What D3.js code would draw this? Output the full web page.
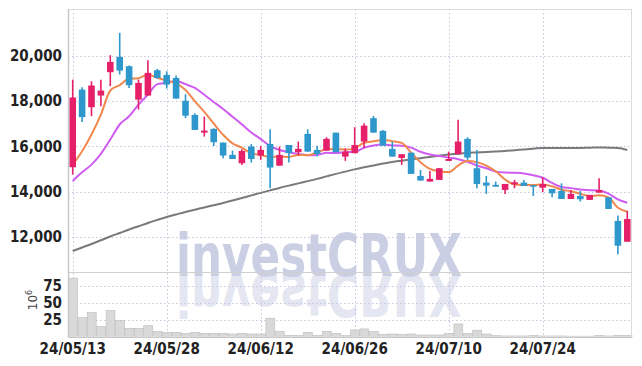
<!DOCTYPE html>
<html><head><meta charset="utf-8">
<script src="https://cdn.jsdelivr.net/npm/d3@7"></script>
<style>html,body{margin:0;padding:0;background:#fff;}svg{display:block;}</style>
</head><body><svg id="c" width="642" height="366" xmlns:xlink="http://www.w3.org/1999/xlink"></svg>
<script>
const dates = ["24/05/13","24/05/14","24/05/16","24/05/17","24/05/20","24/05/21","24/05/22","24/05/23","24/05/24","24/05/27","24/05/28","24/05/29","24/05/30","24/05/31","24/06/03","24/06/04","24/06/05","24/06/07","24/06/10","24/06/11","24/06/12","24/06/13","24/06/14","24/06/17","24/06/18","24/06/19","24/06/20","24/06/21","24/06/24","24/06/25","24/06/26","24/06/27","24/06/28","24/07/01","24/07/02","24/07/03","24/07/04","24/07/05","24/07/08","24/07/09","24/07/10","24/07/11","24/07/12","24/07/15","24/07/16","24/07/17","24/07/18","24/07/19","24/07/22","24/07/23","24/07/24","24/07/25","24/07/26","24/07/29","24/07/30","24/07/31","24/08/01","24/08/02","24/08/05","24/08/06"];
const open  = [15075,18510,17730,18245,19280,19955,19545,18065,18245,19365,19160,19025,18015,17390,16605,16770,16165,15620,15250,15990,15590,16105,15145,16060,15740,16550,15840,15810,16605,15545,15695,16210,17245,16680,15885,15485,15720,14690,14440,14515,15355,15650,16330,15030,14395,14295,14070,14320,14395,14280,14170,14115,14025,13670,13805,13630,13950,13745,12700,11780];
const high  = [18950,18615,18880,18950,20030,21020,19570,18950,19810,19425,19320,19130,18305,17465,17315,16800,16165,15810,15870,16095,16015,16755,15990,16060,16210,16755,16030,16400,16605,15915,16845,17020,17345,16725,16210,15650,15720,14955,14910,15030,15765,17170,16400,15840,14690,14440,14335,14515,14515,14280,14630,14115,14365,14070,14025,13850,14590,13745,12935,13140];
const low   = [14750,17080,17330,17775,18660,19175,18585,17625,18245,18995,18555,18110,17245,16725,16430,16015,15475,15440,15175,15280,15400,14145,15145,15280,15590,15765,15545,15810,15740,15355,15695,15915,16605,16030,15545,15175,14780,14485,14440,14515,15355,15650,15400,14145,13895,14215,13895,14145,14250,13805,13970,13745,13670,13670,13555,13630,13950,13230,11225,11780];
const close = [18160,17290,18690,18465,19735,19350,18705,18805,19250,19025,18730,18110,17355,16725,16695,16180,15590,15440,15795,15440,15840,15060,15620,15695,15885,15765,15665,16330,15740,15765,16060,16915,16605,16030,15545,15650,14780,14485,14560,15030,15440,16210,15500,14335,14260,14215,14335,14410,14250,14220,14335,13920,13670,13895,13660,13850,14070,13230,11605,12785];
const ma5   = [15190,15780,16520,17400,18470,18710,18990,19010,19170,19030,18900,18780,18490,17990,17520,17010,16510,16130,15940,15690,15620,15520,15550,15530,15620,15610,15730,15870,15880,15850,15910,16160,16220,16280,16230,16150,15720,15300,15000,14900,14860,15150,15350,15300,15150,14900,14530,14310,14290,14290,14310,14230,14080,14010,13900,13800,13830,13740,13280,13110];
const ma10  = [14470,14850,15190,15665,16300,16965,17330,17845,18290,18750,18810,18890,18750,18580,18280,17960,17650,17310,16970,16610,16320,16010,15840,15740,15660,15610,15620,15710,15700,15740,15760,15940,16040,16080,16040,16030,15940,15760,15640,15570,15500,15430,15320,15150,15030,14880,14840,14830,14800,14720,14610,14380,14200,14150,14090,14060,14030,13910,13650,13500];
const maLong= [11370,11525,11680,11845,12010,12165,12320,12465,12610,12745,12875,12985,13095,13195,13295,13395,13495,13605,13715,13830,13940,14050,14160,14260,14360,14460,14560,14670,14780,14880,14980,15070,15155,15235,15310,15365,15420,15475,15530,15585,15640,15675,15710,15730,15750,15770,15795,15830,15860,15895,15930,15930,15930,15930,15930,15940,15950,15940,15930,15840];
const volume= [86,28.4,35.7,15.2,38.7,24,12.7,12.7,16.6,8.4,6.9,6.9,5.4,6.9,5.4,5.4,5.4,4.4,5.4,4.4,4.4,27.5,8.4,2.5,2.5,6.9,2.5,8.4,5.4,2,10.3,11.8,7.8,4,4.4,4,4.4,3,3,3,5.4,19,5,10,4.4,2,1.5,1.5,1.5,2.5,1.5,1.5,1.5,1.2,1.2,1.2,2.5,1.5,2.5,2.5];
const priceTicks = [12000,14000,16000,18000,20000];
const volTicks = [25,50,75];
const xTickLabels = ["24/05/13","24/05/28","24/06/12","24/06/26","24/07/10","24/07/24"];

const svg = d3.select("#c");
const L = 68, R = 632, T = 9, PB = 272, VB = 337;
const FONT = "'Liberation Sans Narrow','DejaVu Sans Condensed',sans-serif";

const x = d3.scaleBand().domain(dates).range([L, R]).paddingInner(0.3).paddingOuter(0.15);
const xv = d3.scaleBand().domain(dates).range([L, R]).padding(0);
const y = d3.scaleLinear().domain([10440, 22030]).range([PB, T + 1]);
const yv = d3.scaleLinear().domain([0, 95]).range([VB, PB]);
const cx = d => x(d) + x.bandwidth() / 2;

svg.append("rect").attr("x", L).attr("y", T).attr("width", R - L).attr("height", VB - T).attr("fill", "#fff");

// watermark + reflection
const defs = svg.append("defs");
defs.append("text").attr("id", "wmtext").attr("x", 176).attr("y", 276).attr("textLength", 286).attr("lengthAdjust", "spacingAndGlyphs")
  .attr("font-family", "'DejaVu Sans',sans-serif").attr("font-weight", "bold").attr("font-size", 59)
  .text("investCRUX");
const wm = svg.append("g").attr("fill", "#cbcfe4");
wm.append("text").attr("x", 176).attr("y", 276).attr("textLength", 286).attr("lengthAdjust", "spacingAndGlyphs")
  .attr("font-family", "'DejaVu Sans',sans-serif").attr("font-weight", "bold").attr("font-size", 59)
  .text("investCRUX");
wm.append("use").attr("href", "#wmtext").attr("transform", "translate(0,550) scale(1,-1)").attr("fill", "#cbcfe4").attr("opacity", 0.5);

// grids
const gridC = "#c3c8de";
svg.append("g").selectAll("line").data(priceTicks).join("line")
  .attr("x1", L).attr("x2", R).attr("y1", d => Math.round(y(d)) + 0.5).attr("y2", d => Math.round(y(d)) + 0.5)
  .attr("stroke", gridC).attr("stroke-dasharray", "1.5,2.5");
svg.append("g").selectAll("line").data(volTicks).join("line")
  .attr("x1", L).attr("x2", R).attr("y1", d => Math.round(yv(d)) + 0.5).attr("y2", d => Math.round(yv(d)) + 0.5)
  .attr("stroke", gridC).attr("stroke-dasharray", "1.5,2.5");
svg.append("g").selectAll("line").data(xTickLabels).join("line")
  .attr("x1", d => Math.round(cx(d)) + 0.5).attr("x2", d => Math.round(cx(d)) + 0.5).attr("y1", T).attr("y2", VB)
  .attr("stroke", gridC).attr("stroke-dasharray", "1.5,2.5");

// volume bars
svg.append("g").selectAll("rect").data(dates).join("rect")
  .attr("x", d => xv(d) + 0.5).attr("width", xv.bandwidth() - 0.5)
  .attr("y", (d, i) => yv(volume[i])).attr("height", (d, i) => VB - yv(volume[i]))
  .attr("fill", "#d9d9d9").attr("stroke", "#bdbdbd").attr("stroke-width", 0.6);

// MA lines
const line = arr => d3.line().x((d, i) => cx(dates[i])).y(d => y(d)).curve(d3.curveMonotoneX)(arr);
svg.append("path").attr("d", line(maLong)).attr("fill", "none").attr("stroke", "#7a7a7a").attr("stroke-width", 2);
svg.append("path").attr("d", line(ma10)).attr("fill", "none").attr("stroke", "#cf5cf0").attr("stroke-width", 2);
svg.append("path").attr("d", line(ma5)).attr("fill", "none").attr("stroke", "#f0884e").attr("stroke-width", 2);

// candles
const up = "#e52068", dn = "#2e97cb";
const cg = svg.append("g");
cg.selectAll("line").data(dates).join("line")
  .attr("x1", d => cx(d)).attr("x2", d => cx(d))
  .attr("y1", (d, i) => y(high[i])).attr("y2", (d, i) => y(low[i]))
  .attr("stroke", (d, i) => close[i] >= open[i] ? up : dn).attr("stroke-width", 1.6);
cg.selectAll("rect").data(dates).join("rect")
  .attr("x", d => x(d)).attr("width", x.bandwidth())
  .attr("y", (d, i) => y(Math.max(open[i], close[i])))
  .attr("height", (d, i) => Math.max(1.5, Math.abs(y(open[i]) - y(close[i]))))
  .attr("fill", (d, i) => close[i] >= open[i] ? up : dn);

// frame lines
svg.append("rect").attr("x", L + 0.5).attr("y", T + 0.5).attr("width", R - L - 1).attr("height", VB - T - 1)
  .attr("fill", "none").attr("stroke", "#dcdcdc");
svg.append("line").attr("x1", L).attr("x2", R).attr("y1", PB + 0.5).attr("y2", PB + 0.5).attr("stroke", "#d0d0d0");
svg.append("line").attr("x1", L + 0.5).attr("x2", L + 0.5).attr("y1", T).attr("y2", VB).attr("stroke", "#c8c8c8").attr("stroke-width", 1.5);
svg.append("line").attr("x1", L).attr("x2", R).attr("y1", VB + 0.5).attr("y2", VB + 0.5).attr("stroke", "#c8c8c8");

// axes
const yAxis = d3.axisLeft(y).tickValues(priceTicks).tickFormat(d3.format(",")).tickSize(0).tickPadding(6);
const ya = svg.append("g").attr("transform", `translate(${L},0)`).call(yAxis);
const yvAxis = d3.axisLeft(yv).tickValues(volTicks).tickSize(0).tickPadding(6);
const yva = svg.append("g").attr("transform", `translate(${L},0)`).call(yvAxis);
const xAxis = d3.axisBottom(x).tickValues(xTickLabels).tickSize(0).tickPadding(6);
const xa = svg.append("g").attr("transform", `translate(0,${VB})`).call(xAxis);
[ya, yva, xa].forEach(g => {
  g.select(".domain").remove();
  g.selectAll("text").attr("font-family", FONT).attr("font-size", 15).attr("font-weight", "bold").attr("fill", "#222");
});

svg.append("text").attr("transform", "translate(37,300) rotate(-90)").attr("text-anchor", "middle")
  .attr("font-family", "'DejaVu Sans',sans-serif").attr("font-size", 12).attr("fill", "#444")
  .html('10<tspan dy="-5" font-size="8">6</tspan>');
</script></body></html>
